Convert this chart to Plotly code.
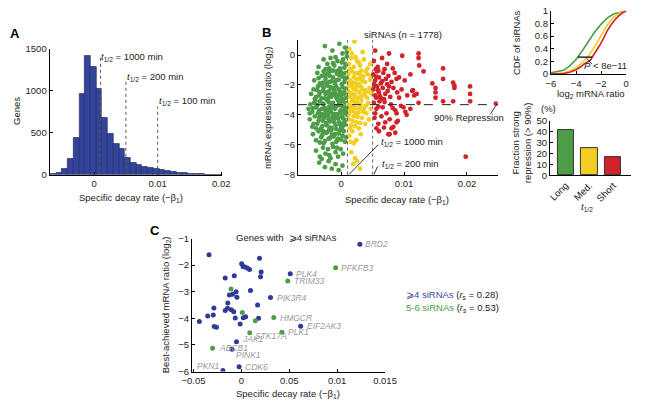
import plotly.graph_objects as go

W, H = 645, 408
def px(x): return x / W
def py(y): return 1 - y / H

FONT = "Liberation Sans, Arial, Helvetica, sans-serif"
GREEN = "#4d9d48"
YELLOW = "#f0cf22"
RED = "#d1232a"
BLUE = "#2f3a96"

# ---------------- Panel A: histogram ----------------
hist_centers = [-0.0064, -0.0055, -0.0046, -0.0037, -0.0028, -0.0019, -0.0010, -0.0001,
                0.0008, 0.0017, 0.0026, 0.0035, 0.0044, 0.0053, 0.0062, 0.0071, 0.0080,
                0.0089, 0.0098, 0.0107, 0.0116, 0.0125, 0.0134, 0.0143, 0.0152, 0.0161,
                0.0170, 0.0179, 0.0188, 0.0197]
hist_counts = [8, 25, 70, 190, 442, 965, 1420, 1290, 1025, 682, 490, 364, 306, 198, 140,
               120, 93, 81, 66, 58, 43, 35, 27, 19, 15, 12, 9, 6, 4, 2]
hist_bin_width = 0.0009
halflife_rates = [0.001, 0.005, 0.01]
halflife_labels = ["1000", "200", "100"]
halflife_label_counts = [1407, 1163, 884]
halflife_line_tops = [1430, 1105, 814]

# ---------------- Panel B: scatter (decay rate x 10^3, log2 ratio) ----------------
green_rate_milli = [
    -2.6, -1.4, -0.3, 0.6, 0.9, 0.2,
    -3.6, -2.8, -2.2, -1.7, -1.1, -0.6, -0.2, 0.3, 0.7, 0.9, -1.9, -0.9, 0.1, 0.5, -2.5, -1.3,
    -4.3, -3.8, -3.4, -3.1, -2.8, -2.5, -2.2, -1.9, -1.6, -1.3, -1.0, -0.7, -0.4, -0.1, 0.2, 0.5,
    0.8, -3.6, -2.9, -2.3, -1.8, -1.2, -0.8, -0.3, 0.1, 0.6, 0.9, -2.0, -1.5, -0.5, 0.35, -2.6,
    -4.8, -4.4, -4.0, -3.7, -3.4, -3.1, -2.8, -2.5, -2.2, -1.9, -1.6, -1.3, -1.0, -0.7, -0.4, -0.1,
    0.2, 0.5, 0.8, -4.2, -3.5, -3.0, -2.6, -2.3, -2.0, -1.7, -1.4, -1.1, -0.8, -0.5, -0.2, 0.1,
    0.4, 0.7, 0.95, -3.8, -2.9, -1.8, -0.9, 0.3,
    -5.2, -4.9, -4.6, -4.3, -4.0, -3.7, -3.4, -3.1, -2.8, -2.5, -2.2, -1.9, -1.6, -1.3, -1.0, -0.7,
    -0.4, -0.1, 0.2, 0.5, 0.8, -5.0, -4.5, -4.1, -3.8, -3.5, -3.2, -2.9, -2.6, -2.3, -2.0, -1.7,
    -1.4, -1.1, -0.8, -0.5, -0.2, 0.1, 0.4, 0.7, 0.95, -3.0, -2.1, -1.2, -0.3, 0.55,
    -5.0, -4.6, -4.2, -3.8, -3.5, -3.2, -2.9, -2.6, -2.3, -2.0, -1.7, -1.4, -1.1, -0.8, -0.5, -0.2,
    0.1, 0.4, 0.7, -4.4, -4.0, -3.6, -3.0, -2.7, -2.4, -2.1, -1.8, -1.5, -1.2, -0.9, -0.6, -0.3,
    0.0, 0.3, 0.6, 0.9, -3.3, -1.9, -1.0, 0.2,
    -4.5, -4.0, -3.6, -3.2, -2.8, -2.4, -2.0, -1.6, -1.2, -0.8, -0.4, 0.0, 0.4, 0.8, -3.4, -3.0,
    -2.6, -2.2, -1.8, -1.4, -1.0, -0.6, -0.2, 0.2, 0.6, -2.9, -1.5, -0.5,
    -4.0, -3.4, -2.9, -2.5, -2.1, -1.7, -1.3, -0.9, -0.5, -0.1, 0.3, -3.1, -1.9, -0.7,
    -3.5, -2.6, -2.0, -1.5, -0.9, -0.4, 0.2,
]
green_ratio = [
    0.6, 0.3, 0.75, 0.5, 0.2, 0.1,
    -0.8, -0.3, -0.6, -0.2, -0.7, -0.4, -0.9, -0.3, -0.6, -0.1, -0.9, -0.15, -0.5, -0.85, -0.95, -0.55,
    -1.7, -1.2, -1.9, -1.4, -1.1, -1.6, -1.3, -1.8, -1.05, -1.5, -1.9, -1.25, -1.65, -1.1, -1.45, -1.8,
    -1.2, -1.55, -1.85, -1.9, -1.4, -1.05, -1.7, -1.35, -1.95, -1.6, -1.5, -1.15, -1.75, -1.05, -1.25, -1.35,
    -2.6, -2.3, -2.8, -2.1, -2.5, -2.9, -2.2, -2.6, -2.05, -2.4, -2.8, -2.2, -2.55, -2.9, -2.3, -2.7,
    -2.15, -2.45, -2.85, -2.95, -2.7, -2.05, -2.9, -2.5, -2.85, -2.15, -2.6, -2.35, -2.1, -2.65, -2.45, -2.9,
    -2.6, -2.25, -2.5, -2.35, -2.4, -2.7, -2.75, -2.95,
    -3.6, -3.3, -3.8, -3.2, -3.5, -3.9, -3.1, -3.6, -3.3, -3.75, -3.05, -3.45, -3.85, -3.2, -3.6, -3.95,
    -3.35, -3.7, -3.1, -3.5, -3.8, -3.9, -3.55, -3.05, -3.35, -3.7, -3.95, -3.25, -3.55, -3.9, -3.15, -3.65,
    -3.3, -3.95, -3.45, -3.05, -3.85, -3.4, -3.75, -3.2, -3.55, -3.98, -3.7, -3.5, -3.25, -3.9,
    -4.3, -4.8, -4.1, -4.6, -4.2, -4.9, -4.4, -4.05, -4.7, -4.3, -4.85, -4.15, -4.5, -4.95, -4.25, -4.65,
    -4.1, -4.55, -4.35, -4.6, -4.9, -4.4, -4.75, -4.2, -4.55, -4.05, -4.45, -4.9, -4.3, -4.7, -4.1, -4.5,
    -4.85, -4.25, -4.65, -4.0, -4.1, -4.95, -4.15, -4.8,
    -5.3, -5.7, -5.1, -5.5, -5.9, -5.2, -5.6, -5.05, -5.45, -5.8, -5.25, -5.65, -5.1, -5.5, -5.85, -5.35,
    -5.75, -5.15, -5.55, -5.95, -5.3, -5.7, -5.05, -5.4, -5.8, -5.1, -5.35, -5.6,
    -6.4, -6.8, -6.2, -6.6, -6.3, -6.9, -6.15, -6.5, -6.8, -6.3, -6.6, -6.95, -6.7, -6.2,
    -7.2, -7.5, -7.1, -7.6, -7.3, -7.7, -7.4,
]
yellow_rate_milli = [
    1.3, 2.1, 3.4, 1.7,
    1.2, 1.6, 2.0, 2.5, 3.0, 3.6, 4.2, 1.4, 2.3, 2.8, 4.6,
    1.1, 1.4, 1.7, 2.0, 2.3, 2.6, 2.9, 3.2, 3.5, 3.8, 4.2, 4.6, 1.25, 1.55, 1.85, 2.15, 2.45, 2.75,
    3.05, 3.4, 3.9, 4.8,
    1.1, 1.4, 1.7, 2.0, 2.3, 2.6, 2.9, 3.2, 3.5, 3.8, 4.1, 4.5, 4.85, 1.25, 1.55, 1.85, 2.15, 2.45,
    2.75, 3.05, 3.35, 3.7, 4.3, 1.95, 2.9,
    1.1, 1.4, 1.7, 2.0, 2.3, 2.6, 2.9, 3.2, 3.5, 3.9, 4.3, 4.7, 1.25, 1.55, 1.85, 2.15, 2.45, 2.75,
    3.1, 3.6, 4.0,
    1.2, 1.6, 2.0, 2.4, 2.8, 3.3, 3.8, 4.4, 1.4, 1.8, 2.2, 2.6, 3.0,
    1.3, 1.8, 2.4, 3.1, 2.0, 1.5,
    1.6, 2.2, 1.9, 3.0, 2.5,
]
yellow_ratio = [
    0.4, 0.9, 0.2, 0.1,
    -0.6, -0.2, -0.8, -0.4, -0.7, -0.3, -0.9, -0.95, -0.15, -0.5, -0.6,
    -1.3, -1.7, -1.1, -1.5, -1.9, -1.2, -1.6, -1.05, -1.45, -1.8, -1.3, -1.65, -1.9, -1.05, -1.85, -1.25,
    -1.6, -1.95, -1.35, -1.75, -1.1, -1.4,
    -2.4, -2.8, -2.1, -2.6, -2.3, -2.9, -2.5, -2.15, -2.7, -2.35, -2.85, -2.2, -2.6, -2.05, -2.55, -2.95,
    -2.7, -2.1, -2.45, -2.8, -2.3, -2.6, -2.45, -2.25, -2.0,
    -3.3, -3.7, -3.1, -3.5, -3.9, -3.2, -3.6, -3.05, -3.8, -3.4, -3.2, -3.6, -3.95, -3.45, -3.75, -3.15,
    -3.55, -3.85, -3.35, -3.6, -3.9,
    -4.3, -4.7, -4.1, -4.5, -4.9, -4.2, -4.6, -4.3, -4.9, -4.4, -4.75, -4.15, -4.55,
    -5.4, -5.1, -5.7, -5.3, -5.9, -5.8,
    -6.5, -6.9, -7.3, -7.6, -7.1,
]
red_rate_milli = [
    5.4, 7.6,
    5.2, 5.8, 6.5, 7.3, 8.2, 9.7, 5.5, 12.3, 12.3, 12.4, 6.9,
    5.1, 5.4, 5.7, 6.0, 6.3, 6.7, 7.1, 7.5, 8.0, 8.5, 9.2, 10.1, 11.0, 13.1, 16.2, 16.2, 17.8, 5.25,
    5.55, 5.9, 6.5, 7.3, 8.8, 14.5,
    5.1, 5.4, 5.7, 6.0, 6.3, 6.6, 7.0, 7.4, 7.8, 8.3, 8.9, 9.6, 10.5, 11.3, 15.0, 15.0, 18.0, 20.5,
    20.5, 5.25, 5.55, 5.85, 6.15, 6.8, 7.6, 9.2, 15.0, 18.0, 12.0, 11.4, 11.6,
    5.2, 5.6, 6.1, 6.6, 7.2, 7.9, 8.6, 9.5, 5.4, 5.9, 6.9, 12.3, 16.2, 17.8, 20.5, 24.6, 8.2, 8.8,
    11.0, 9.9, 10.2, 10.4,
    5.3, 5.9, 6.4, 7.0, 7.7, 8.3, 9.0, 5.6, 6.8, 8.8, 8.0,
    6.0, 7.5, 8.6, 7.7,
    19.8,
]
red_ratio = [
    0.3, 0.1,
    -0.4, -0.8, -0.2, -0.6, -0.9, -0.05, -0.95, 0.1, -0.2, -0.7, -0.95,
    -1.3, -1.7, -1.1, -1.5, -1.9, -1.2, -1.6, -1.4, -1.8, -1.2, -1.5, -1.7, -1.3, -1.1, -0.9, -1.6,
    -1.85, -1.95, -1.45, -1.05, -1.75, -1.95, -1.6, -1.9,
    -2.3, -2.7, -2.1, -2.5, -2.9, -2.2, -2.6, -2.4, -2.8, -2.2, -2.5, -2.3, -2.7, -2.4, -2.2, -2.5,
    -2.2, -2.1, -2.6, -2.05, -2.85, -2.35, -2.75, -2.95, -2.1, -2.85, -2.85, -2.05, -2.6, -2.35, -2.7,
    -3.2, -3.6, -3.1, -3.5, -3.9, -3.3, -3.7, -3.4, -3.9, -3.45, -3.15, -3.2, -3.1, -3.1, -3.1, -3.25,
    -3.55, -3.9, -3.6, -3.5, -3.8, -4.0,
    -4.2, -4.6, -4.1, -4.5, -4.3, -4.8, -4.4, -4.9, -4.85, -4.5, -4.9,
    -5.1, -5.3, -5.2, -5.3,
    -6.8,
]
repression_90 = -3.32  # log2(0.1)
n_sirnas = 1778

# ---------------- Panel B insets ----------------
cdf_long_x = [-6.0, -5.5, -5.0, -4.5, -4.0, -3.5, -3.0, -2.5, -2.0, -1.5, -1.0, -0.5, 0.0]
cdf_long_y = [0.02, 0.035, 0.06, 0.13, 0.23, 0.37, 0.52, 0.67, 0.79, 0.89, 0.95, 0.98, 1.0]
cdf_med_x = [-6.0, -5.0, -4.5, -4.0, -3.5, -3.0, -2.5, -2.0, -1.5, -1.0, -0.5, 0.0]
cdf_med_y = [0.0, 0.02, 0.05, 0.1, 0.18, 0.29, 0.44, 0.62, 0.78, 0.9, 0.97, 1.0]
cdf_short_x = [-6.0, -5.0, -4.5, -4.0, -3.6, -3.3, -3.0, -2.85, -2.7, -2.4, -2.1, -1.8, -1.5,
               -1.2, -0.9, -0.6, -0.3, 0.0]
cdf_short_y = [0.0, 0.01, 0.03, 0.07, 0.12, 0.17, 0.2, 0.22, 0.27, 0.36, 0.46, 0.57, 0.69,
               0.78, 0.86, 0.92, 0.97, 1.0]
cdf_gap_y = 0.27
cdf_gap_x = [-3.85, -2.72]

frac_categories = ["Long", "Med.", "Short"]
frac_values = [41.5, 25.5, 16.5]
frac_colors = [GREEN, YELLOW, RED]

# ---------------- Panel C ----------------
c4_rate_milli = [-3.38, 1.89, 0.03, 0.17, 0.37, 0.61, 0.85, 2.06, 2.0, -0.74, -1.69, 5.1, 0.95,
                 3.04, -0.91, -1.25, -0.47, -1.42, -2.87, -1.69, -1.45, -1.05, -0.8, 1.69, -2.94,
                 -3.52, -4.39, -2.84, -2.6, -0.64, 0.2, 0.44, -0.13, 1.79, 6.19, -0.51, -0.98,
                 -1.93, -0.24, 12.37, -0.55]
c4_ratio = [-1.61, -1.74, -1.95, -2.05, -2.07, -2.11, -2.16, -2.26, -2.44, -2.40, -2.48, -2.32,
            -2.95, -3.22, -3.09, -3.12, -3.21, -3.42, -3.61, -3.70, -3.62, -3.68, -3.75, -3.50,
            -3.87, -3.91, -4.12, -4.31, -4.33, -3.99, -3.98, -3.94, -4.21, -4.0, -4.30, -4.88,
            -5.16, -5.96, -5.82, -1.21, -3.0]
c4_genes = ["", "", "", "", "", "", "", "", "", "", "", "PLK4", "", "PIK3R4", "", "", "", "", "",
            "", "", "", "", "", "", "", "", "", "", "", "", "", "", "", "EIF2AK3", "JAK1", "PINK1",
            "PKN1", "CDK6", "BRD2", ""]
c56_rate_milli = [-1.08, 0.1, 1.45, 4.84, 3.38, 0.88, 4.23, -3.01, 9.84]
c56_ratio = [-2.9, -3.78, -4.09, -2.6, -3.97, -4.54, -4.52, -5.12, -2.1]
c56_genes = ["", "", "", "TRIM33", "HMGCR", "STK17A", "PLK1", "ABCB1", "PFKFB3"]
rs_values = ["0.28", "0.53"]

# label placement: (xanchor, xshift, yshift)
label_pos = {"PLK4": ("left", 4, 0), "PIK3R4": ("left", 4, 0), "EIF2AK3": ("left", 4, 0),
             "JAK1": ("left", 3, 3), "PINK1": ("left", 2, -6), "PKN1": ("right", -2, 5),
             "CDK6": ("left", 4, 0), "BRD2": ("left", 3, 0), "TRIM33": ("left", 4, 0),
             "HMGCR": ("left", 4, 0), "STK17A": ("left", 3, -3), "PLK1": ("left", 4, 0),
             "ABCB1": ("left", 4, 0), "PFKFB3": ("left", 3, 0)}

fig = go.Figure()

# A
fig.add_trace(go.Bar(x=hist_centers, y=hist_counts, width=hist_bin_width,
                     marker=dict(color="#34439c", line=dict(color="#1b2255", width=0.6)),
                     xaxis="x", yaxis="y", showlegend=False))
# B scatter
for xs, ys, col in [(green_rate_milli, green_ratio, GREEN), (yellow_rate_milli, yellow_ratio, YELLOW),
                    (red_rate_milli, red_ratio, RED)]:
    fig.add_trace(go.Scatter(x=[v / 1000 for v in xs], y=ys, mode="markers",
                             marker=dict(color=col, size=4.8, line=dict(width=0)),
                             xaxis="x2", yaxis="y2", showlegend=False))
# CDF inset
for xs, ys, col in [(cdf_long_x, cdf_long_y, GREEN), (cdf_med_x, cdf_med_y, YELLOW),
                    (cdf_short_x, cdf_short_y, RED)]:
    fig.add_trace(go.Scatter(x=xs, y=ys, mode="lines", line=dict(color=col, width=1.6),
                             xaxis="x3", yaxis="y3", showlegend=False))
fig.add_trace(go.Scatter(x=cdf_gap_x, y=[cdf_gap_y, cdf_gap_y], mode="lines",
                         line=dict(color="black", width=1.2), xaxis="x3", yaxis="y3", showlegend=False))
# Fraction bars
fig.add_trace(go.Bar(x=[0, 1, 2], y=frac_values, width=0.68,
                     marker=dict(color=frac_colors, line=dict(color="#333", width=1)),
                     xaxis="x4", yaxis="y4", showlegend=False))
# C
fig.add_trace(go.Scatter(x=[v / 1000 for v in c4_rate_milli], y=c4_ratio, mode="markers",
                         marker=dict(color=BLUE, size=5), xaxis="x5", yaxis="y5", showlegend=False))
fig.add_trace(go.Scatter(x=[v / 1000 for v in c56_rate_milli], y=c56_ratio, mode="markers",
                         marker=dict(color=GREEN, size=5), xaxis="x5", yaxis="y5", showlegend=False))


def axstyle(**kw):
    d = dict(showline=True, linecolor="black", linewidth=1, ticks="inside", ticklen=3,
             tickwidth=1, tickcolor="black", showgrid=False, zeroline=False,
             tickfont=dict(size=9.5, color="#222", family=FONT), fixedrange=True)
    d.update(kw)
    return d


fig.update_layout(
    width=W, height=H, autosize=False,
    margin=dict(l=0, r=0, t=0, b=0),
    paper_bgcolor="white", plot_bgcolor="white",
    font=dict(family=FONT, size=9, color="#222"),
    bargap=0,
    xaxis=axstyle(domain=[px(41), px(220)], range=[-0.0070, 0.0202], anchor="y",
                  tickvals=[0, 0.01, 0.02], ticktext=["0", "0.01", "0.02"]),
    yaxis=axstyle(domain=[py(173.5), py(44)], range=[0, 1500], anchor="x",
                  tickvals=[0, 500, 1000, 1500]),
    xaxis2=axstyle(domain=[px(298), px(505)], range=[-0.0069, 0.0249], anchor="y2",
                   tickvals=[0, 0.01, 0.02], ticktext=["0", "0.01", "0.02"]),
    yaxis2=axstyle(domain=[py(173.3), py(35)], range=[-8, 1], anchor="x2",
                   tickvals=[-8, -6, -4, -2, 0]),
    xaxis3=axstyle(domain=[px(560), px(638)], range=[-6, 0], anchor="y3",
                   tickvals=[-6, -4, -2, 0]),
    yaxis3=axstyle(domain=[py(70), py(5)], range=[0, 1], anchor="x3",
                   tickvals=[0, 0.2, 0.4, 0.6, 0.8, 1], ticktext=["0", "0.2", "0.4", "0.6", "0.8", "1"]),
    xaxis4=axstyle(domain=[px(559), px(643)], range=[-0.66, 2.75], anchor="y4",
                   tickvals=[0, 1, 2], ticktext=frac_categories, tickangle=-45, ticks=""),
    yaxis4=axstyle(domain=[py(174), py(118.3)], range=[0, 50], anchor="x4",
                   tickvals=[0, 10, 20, 30, 40, 50]),
    xaxis5=axstyle(domain=[px(188.3), px(388.3)], range=[-0.00517, 0.015], anchor="y5",
                   tickvals=[-0.005, 0, 0.005, 0.01, 0.015],
                   ticktext=["\u22120.05", "0", "0.05", "0.01", "0.015"]),
    yaxis5=axstyle(domain=[py(375.7), py(239)], range=[-6, -1], anchor="x5",
                   tickvals=[-6, -5, -4, -3, -2, -1]),
)

shapes = []
# A half-life lines
for r, top in zip(halflife_rates, halflife_line_tops):
    shapes.append(dict(type="line", xref="x", yref="y", x0=r, x1=r, y0=0, y1=top,
                       line=dict(color="#555", width=1, dash="dot")))
# B dashed lines
for r in halflife_rates[:2]:
    shapes.append(dict(type="line", xref="x2", yref="y2", x0=r, x1=r, y0=-8, y1=1,
                       line=dict(color="#666", width=1, dash="dot")))
shapes.append(dict(type="line", xref="x2", yref="y2", x0=-0.0069, x1=0.0249,
                   y0=repression_90, y1=repression_90, line=dict(color="#222", width=1, dash="dash")))
# B callout lines
shapes.append(dict(type="line", xref="x2", yref="y2", x0=0.0012, y0=-8, x1=0.0059, y1=-6.0,
                   line=dict(color="black", width=0.8)))
shapes.append(dict(type="line", xref="x2", yref="y2", x0=0.0052, y0=-8, x1=0.0058, y1=-7.45,
                   line=dict(color="black", width=0.8)))
shapes.append(dict(type="line", xref="x2", yref="y2", x0=0.02374, y0=-3.94, x1=0.02457, y1=-3.40,
                   line=dict(color="black", width=0.8)))
# CDF P arrow
shapes.append(dict(type="line", xref="x3", yref="y3", x0=-2.75, y0=0.16, x1=-3.15, y1=0.25,
                   line=dict(color="black", width=0.8)))
fig.update_layout(shapes=shapes)

anns = []
def ann(text, x, y, size=9.5, color="#222", xanchor="center", yanchor="middle", angle=0, bold=False):
    if bold:
        text = "<b>" + text + "</b>"
    anns.append(dict(text=text, x=px(x), y=py(y), xref="paper", yref="paper", showarrow=False,
                     xanchor=xanchor, yanchor=yanchor, textangle=angle,
                     font=dict(size=size, color=color, family=FONT)))

ann("A", 5, 28, size=13, color="black", bold=True)
ann("B", 266, 27.5, size=13, color="black", bold=True)
ann("C", 150, 231, size=13, color="black", bold=True)

# A labels
ann("Specific decay rate (\u2212\u03b2<sub>1</sub>)", 125, 197)
ann("Genes", 6, 108, angle=-90)
for r, lab, yc in zip(halflife_rates, halflife_labels, halflife_label_counts):
    anns.append(dict(text="<i>t</i><sub>1/2</sub> = " + lab + " min", x=r, y=yc, xref="x", yref="y",
                     showarrow=False, xanchor="left", yanchor="middle", xshift=-1,
                     font=dict(size=9.5, color="#222", family=FONT)))

# B labels
ann("siRNAs (<i>n</i> = %d)" % n_sirnas, 407, 29)
ann("Specific decay rate (\u2212\u03b2<sub>1</sub>)", 401, 199)
ann("mRNA expression ratio (log<sub>2</sub>)", 267, 104, angle=-90)
ann("<i>t</i><sub>1/2</sub> = 1000 min", 382, 140, xanchor="left")
ann("<i>t</i><sub>1/2</sub> = 200 min", 383, 162, xanchor="left")
ann("90% Repression", 437, 115, xanchor="left")

# CDF labels
ann("log<sub>2</sub> mRNA ratio", 602, 90)
ann("CDF of siRNAs", 525, 38, angle=-90)
ann("<i>P</i> < 8e\u221211", 641, 61, xanchor="right")

# Bars labels
ann("(%)", 558, 105)
ann("Fraction strong<br>repression (> 90%)", 529, 140, angle=-90)
ann("<i>t</i><sub>1/2</sub>", 597, 207)

# C labels
ann("Genes with  \u2a7e4 siRNAs", 286, 237.5)
ann("Specific decay rate (\u2212\u03b2<sub>1</sub>)", 288, 399)
ann("Best-achieved mRNA ratio (log<sub>2</sub>)", 161, 307, angle=-90)
ann("<span style='color:%s'>\u2a7e4 siRNAs</span> (<i>r</i><sub>s</sub> = %s)" % ("#3a4aa0", rs_values[0]),
    408, 297, xanchor="left")
ann("<span style='color:%s'>5-6 siRNAs</span> (<i>r</i><sub>s</sub> = %s)" % (GREEN, rs_values[1]),
    408, 310, xanchor="left")

for xs, ys, gs in [(c4_rate_milli, c4_ratio, c4_genes), (c56_rate_milli, c56_ratio, c56_genes)]:
    for xv, yv, g in zip(xs, ys, gs):
        if not g:
            continue
        xa, xsft, ysft = label_pos[g]
        anns.append(dict(text="<i>" + g + "</i>", x=xv / 1000, y=yv, xref="x5", yref="y5",
                         showarrow=False, xanchor=xa, yanchor="middle", xshift=xsft, yshift=ysft,
                         font=dict(size=8.5, color="#9a9a9a", family=FONT)))

fig.update_layout(annotations=anns)
fig.write_html("out.html", config={"displayModeBar": False},
               post_script="document.body.style.margin='0';document.body.style.overflow='hidden';")
